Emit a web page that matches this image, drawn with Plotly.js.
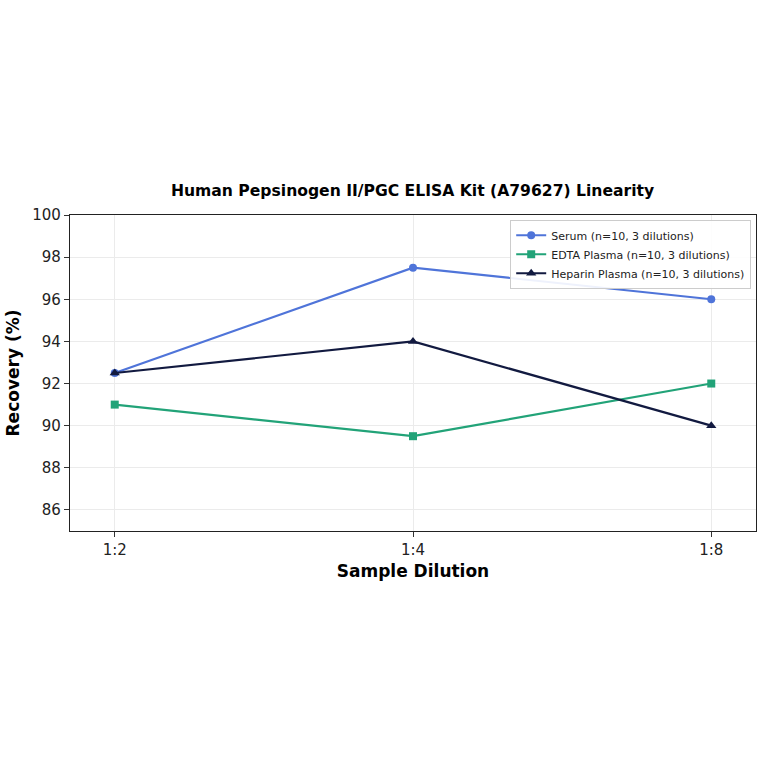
<!DOCTYPE html>
<html>
<head>
<meta charset="utf-8">
<script src="https://cdn.plot.ly/plotly-3.0.1.min.js"></script>
<style>
  html, body { margin: 0; padding: 0; background: #fff; }
  #chart { width: 764px; height: 764px; }
</style>
</head>
<body>
<div id="chart"></div>
<script>
// dilution categories and recovery values (%)
let dilutions = ['1:2', '1:4', '1:8'];
let serum = [92.5, 97.5, 96.0];
let edta = [91.0, 89.5, 92.0];
let heparin = [92.5, 94.0, 90.0];

let yTicks = [86, 88, 90, 92, 94, 96, 98, 100];

let chart = document.getElementById('chart');

// Serum
let trace1 = {
    type: 'scatter',
    mode: 'lines+markers',
    name: 'Serum (n=10, 3 dilutions)',
    x: dilutions,
    y: serum,
    line: { color: '#4f74d9', width: 2.2 },
    marker: { symbol: 'circle', size: 8, color: '#4f74d9' },
};

// EDTA Plasma
let trace2 = {
    type: 'scatter',
    mode: 'lines+markers',
    name: 'EDTA Plasma (n=10, 3 dilutions)',
    x: dilutions,
    y: edta,
    line: { color: '#22a378', width: 2.2 },
    marker: { symbol: 'square', size: 8, color: '#22a378' },
};

// Heparin Plasma
let trace3 = {
    type: 'scatter',
    mode: 'lines+markers',
    name: 'Heparin Plasma (n=10, 3 dilutions)',
    x: dilutions,
    y: heparin,
    line: { color: '#121a40', width: 2.2 },
    marker: { symbol: 'triangle-up', size: 9, color: '#121a40' },
};

let data = [trace1, trace2, trace3];

let layout = {
    width: 764,
    height: 764,
    margin: { l: 70, r: 8, t: 215, b: 233 },
    paper_bgcolor: '#ffffff',
    plot_bgcolor: '#ffffff',
    font: { family: 'DejaVu Sans, sans-serif', color: '#000' },
    title: {
        text: '<b>Human Pepsinogen II/PGC ELISA Kit (A79627) Linearity</b>',
        font: { size: 15.6, color: '#000' },
        x: 0.54,
        xanchor: 'center',
        y: 0.75,
        yanchor: 'middle',
    },
    xaxis: {
        type: 'category',
        range: [-0.15, 2.15],
        title: { text: '<b>Sample Dilution</b>', font: { size: 17 }, standoff: 6 },
        tickfont: { size: 15, color: '#222' },
        ticks: 'outside',
        ticklen: 5,
        tickcolor: '#333',
        showgrid: true,
        gridcolor: '#ebebeb',
        showline: true,
        linecolor: '#222',
        linewidth: 1.4,
        mirror: true,
        zeroline: false,
    },
    yaxis: {
        range: [85, 100],
        tickvals: yTicks,
        title: { text: '<b>Recovery (%)</b>', font: { size: 17 }, standoff: 8 },
        tickfont: { size: 15, color: '#222' },
        ticks: 'outside',
        ticklen: 5,
        tickcolor: '#333',
        showgrid: true,
        gridcolor: '#ebebeb',
        showline: true,
        linecolor: '#222',
        linewidth: 1.4,
        mirror: true,
        zeroline: false,
    },
    legend: {
        x: 0.993,
        y: 0.985,
        xanchor: 'right',
        yanchor: 'top',
        bgcolor: 'rgba(255,255,255,0.9)',
        bordercolor: '#cccccc',
        borderwidth: 1,
        font: { size: 11, color: '#222' },
        itemwidth: 30,
        tracegroupgap: 0,
    },
    showlegend: true,
};

Plotly.newPlot(chart, data, layout, { displayModeBar: false });
</script>
</body>
</html>
